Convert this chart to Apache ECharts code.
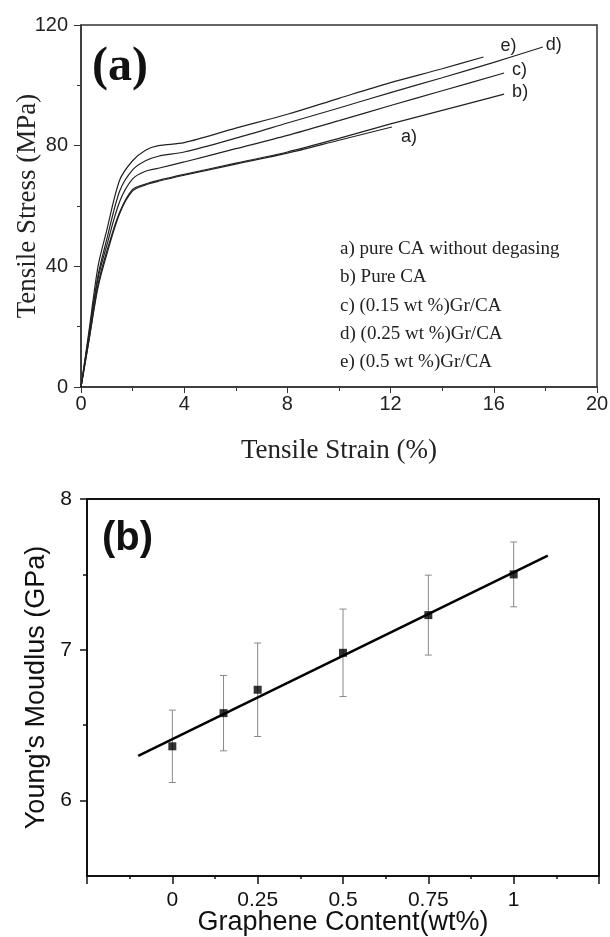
<!DOCTYPE html>
<html>
<head>
<meta charset="utf-8">
<script src="https://cdn.jsdelivr.net/npm/echarts@6/dist/echarts.min.js"></script>
<style>
  html, body { margin: 0; padding: 0; background: #fff; }
  #main { width: 610px; height: 937px; }
</style>
</head>
<body>
<div id="main"></div>
<script>
// (a) tensile curves, strain (%) / stress (MPa)
const strainA = [0, 0.3, 0.66, 1.0, 1.5, 2.0, 2.5, 3, 4, 6, 8, 10, 12.05]
const stressA = [0, 15, 33, 44, 57.5, 65, 67, 68.2, 70.2, 73.9, 77.5, 81.8, 86.2]
const strainB = [0, 0.3, 0.66, 1.0, 1.5, 2.0, 2.5, 3, 4, 6, 8, 10, 12, 14, 16.4]
const stressB = [0, 15, 34, 45, 58, 65.5, 67.3, 68.5, 70.5, 74.2, 77.9, 82.4, 87.2, 91.7, 97.1]
const strainC = [0, 0.3, 0.66, 1.0, 1.5, 2.0, 2.5, 3, 4, 6, 8, 10, 12, 14, 16.4]
const stressC = [0, 16, 36, 47, 61.5, 69, 71.5, 72.5, 74.6, 79, 83.4, 88.3, 93.3, 98.2, 104.1]
const strainD = [0, 0.3, 0.66, 1.0, 1.5, 2.0, 2.5, 3, 4, 6, 8, 10, 12, 14, 16, 17.9]
const stressD = [0, 17, 37, 49, 65, 72, 75, 76.5, 77.9, 82.5, 87.5, 92.5, 97.6, 102.5, 107.6, 112.7]
const strainE = [0, 0.3, 0.66, 1.0, 1.5, 2.0, 2.5, 3, 4, 6, 8, 10, 12, 14, 15.6]
const stressE = [0, 18, 40, 52, 68.6, 75, 78.5, 80, 81, 85.8, 90.4, 95.7, 100.9, 105.5, 109.4]
const curveTags = ['a)', 'b)', 'c)', 'd)', 'e)']
const legendLines = [
  'a) pure CA without degasing',
  'b) Pure CA',
  'c) (0.15 wt %)Gr/CA',
  'd) (0.25 wt %)Gr/CA',
  'e) (0.5 wt %)Gr/CA'
]

// (b) Young's modulus vs graphene content
const content = [0, 0.15, 0.25, 0.5, 0.75, 1]
const modulus = [6.36, 6.58, 6.735, 6.98, 7.23, 7.5]
const modErr = [0.24, 0.25, 0.31, 0.29, 0.265, 0.215]
const fitX = [-0.1, 1.1]
const fitY = [6.297, 7.624]

const SERIF = 'Liberation Serif'
const SANS = 'Liberation Sans'

function zip(xs, ys) {
  return xs.map((x, i) => [x, ys[i]])
}

const curves = [
  [strainA, stressA, [1, 10]],
  [strainB, stressB, [0, -2]],
  [strainC, stressC, [0, -3]],
  [strainD, stressD, [-5, -2]],
  [strainE, stressE, [9, -11]]
]

const curveSeries = curves.map((c, i) => ({
  type: 'line',
  xAxisIndex: 0,
  yAxisIndex: 0,
  data: zip(c[0], c[1]),
  smooth: 0.3,
  showSymbol: false,
  lineStyle: { color: '#222', width: 1.2 },
  endLabel: {
    show: true,
    formatter: curveTags[i],
    fontFamily: SANS,
    fontSize: 18,
    color: '#222',
    offset: c[2]
  },
  silent: true
}))

const errData = content.map((x, i) => [x, modulus[i] - modErr[i], modulus[i] + modErr[i]])

const option = {
  animation: false,
  grid: [
    { left: 81, top: 25, width: 516, height: 362, show: true, borderColor: '#333', borderWidth: 1.5, outerBoundsMode: 'none', containLabel: false },
    { left: 87, top: 499, width: 512, height: 377, show: true, borderColor: '#111', borderWidth: 2, outerBoundsMode: 'none', containLabel: false }
  ],
  xAxis: [
    {
      gridIndex: 0,
      type: 'value',
      min: 0,
      max: 20,
      interval: 4,
      name: 'Tensile Strain (%)',
      nameLocation: 'middle',
      nameGap: 50,
      nameMoveOverlap: false,
      nameTextStyle: { fontFamily: SERIF, fontSize: 27, color: '#222' },
      axisLine: { onZero: false, lineStyle: { color: '#333', width: 1.5 } },
      axisTick: { length: 6, lineStyle: { color: '#333' } },
      minorTick: { show: true, splitNumber: 2, length: 4, lineStyle: { color: '#333' } },
      axisLabel: { margin: 7, fontFamily: SANS, fontSize: 20, color: '#222' },
      splitLine: { show: false }
    },
    {
      gridIndex: 1,
      type: 'value',
      min: -0.25,
      max: 1.25,
      interval: 0.25,
      name: 'Graphene Content(wt%)',
      nameLocation: 'middle',
      nameGap: 33,
      nameMoveOverlap: false,
      nameTextStyle: { fontFamily: SANS, fontSize: 27, color: '#111' },
      axisLine: { onZero: false, lineStyle: { color: '#111', width: 2 } },
      axisTick: { length: 8, lineStyle: { color: '#111', width: 1.5 } },
      minorTick: { show: true, splitNumber: 2, length: 3, lineStyle: { color: '#111', width: 1.5 } },
      axisLabel: { margin: 14, fontFamily: SANS, fontSize: 21, color: '#111', showMinLabel: false, showMaxLabel: false },
      splitLine: { show: false }
    }
  ],
  yAxis: [
    {
      gridIndex: 0,
      type: 'value',
      min: 0,
      max: 120,
      interval: 40,
      name: 'Tensile Stress (MPa)',
      nameLocation: 'middle',
      nameGap: 40,
      nameMoveOverlap: false,
      nameTextStyle: { fontFamily: SERIF, fontSize: 27, color: '#222' },
      axisLine: { onZero: false, lineStyle: { color: '#333', width: 1.5 } },
      axisTick: { length: 7, lineStyle: { color: '#333' } },
      minorTick: { show: true, splitNumber: 2, length: 4, lineStyle: { color: '#333' } },
      axisLabel: { margin: 13, fontFamily: SANS, fontSize: 20, color: '#222' },
      splitLine: { show: false }
    },
    {
      gridIndex: 1,
      type: 'value',
      position: 'left',
      min: 5.5,
      max: 8,
      interval: 0.5,
      name: "Young's Moudlus (GPa)",
      nameLocation: 'middle',
      nameGap: 37,
      nameMoveOverlap: false,
      nameTextStyle: { fontFamily: SANS, fontSize: 27, color: '#111' },
      axisLine: { onZero: false, lineStyle: { color: '#111', width: 2 } },
      axisTick: { length: 7, customValues: [6, 7, 8], lineStyle: { color: '#111', width: 1.5 } },
      axisLabel: {
        margin: 15,
        fontFamily: SANS,
        fontSize: 21,
        color: '#111',
        customValues: [6, 7, 8]
      },
      splitLine: { show: false }
    },
    {
      gridIndex: 1,
      type: 'value',
      position: 'left',
      offset: 0,
      min: 5.5,
      max: 8,
      interval: 0.5,
      axisLine: { show: false, onZero: false },
      axisTick: { show: true, length: 4, customValues: [6.5, 7.5], lineStyle: { color: '#111', width: 1.5 } },
      axisLabel: { show: false },
      splitLine: { show: false }
    }
  ],
  graphic: [
    {
      type: 'text', left: 92, top: 44,
      style: { text: '(a)', font: 'bold 48px "Liberation Serif"', fill: '#111' }
    },
    {
      type: 'text', left: 102, top: 519,
      style: { text: '(b)', font: 'bold 40px "Liberation Sans"', fill: '#111' }
    },
    {
      type: 'text', left: 340, top: 235,
      style: {
        text: legendLines.join('\n'),
        font: '19px "Liberation Serif"',
        lineHeight: 28.3,
        fill: '#222'
      }
    }
  ],
  series: curveSeries.concat([
    {
      type: 'custom',
      xAxisIndex: 1,
      yAxisIndex: 1,
      data: errData,
      z: 2,
      renderItem: function (params, api) {
        const x = api.value(0)
        const top = api.coord([x, api.value(2)])
        const bot = api.coord([x, api.value(1)])
        const w = 3.5
        const st = { stroke: '#888', lineWidth: 1 }
        return {
          type: 'group',
          children: [
            { type: 'line', shape: { x1: top[0], y1: top[1], x2: bot[0], y2: bot[1] }, style: st },
            { type: 'line', shape: { x1: top[0] - w, y1: top[1], x2: top[0] + w, y2: top[1] }, style: st },
            { type: 'line', shape: { x1: bot[0] - w, y1: bot[1], x2: bot[0] + w, y2: bot[1] }, style: st }
          ]
        }
      }
    },
    {
      type: 'line',
      xAxisIndex: 1,
      yAxisIndex: 1,
      data: zip(fitX, fitY),
      showSymbol: false,
      lineStyle: { color: '#000', width: 2.5 },
      z: 3
    },
    {
      type: 'scatter',
      xAxisIndex: 1,
      yAxisIndex: 1,
      data: zip(content, modulus),
      symbol: 'rect',
      symbolSize: 8,
      itemStyle: { color: '#000' },
      z: 4
    }
  ])
}

const chart = echarts.init(document.getElementById('main'))
chart.setOption(option)
</script>
</body>
</html>
